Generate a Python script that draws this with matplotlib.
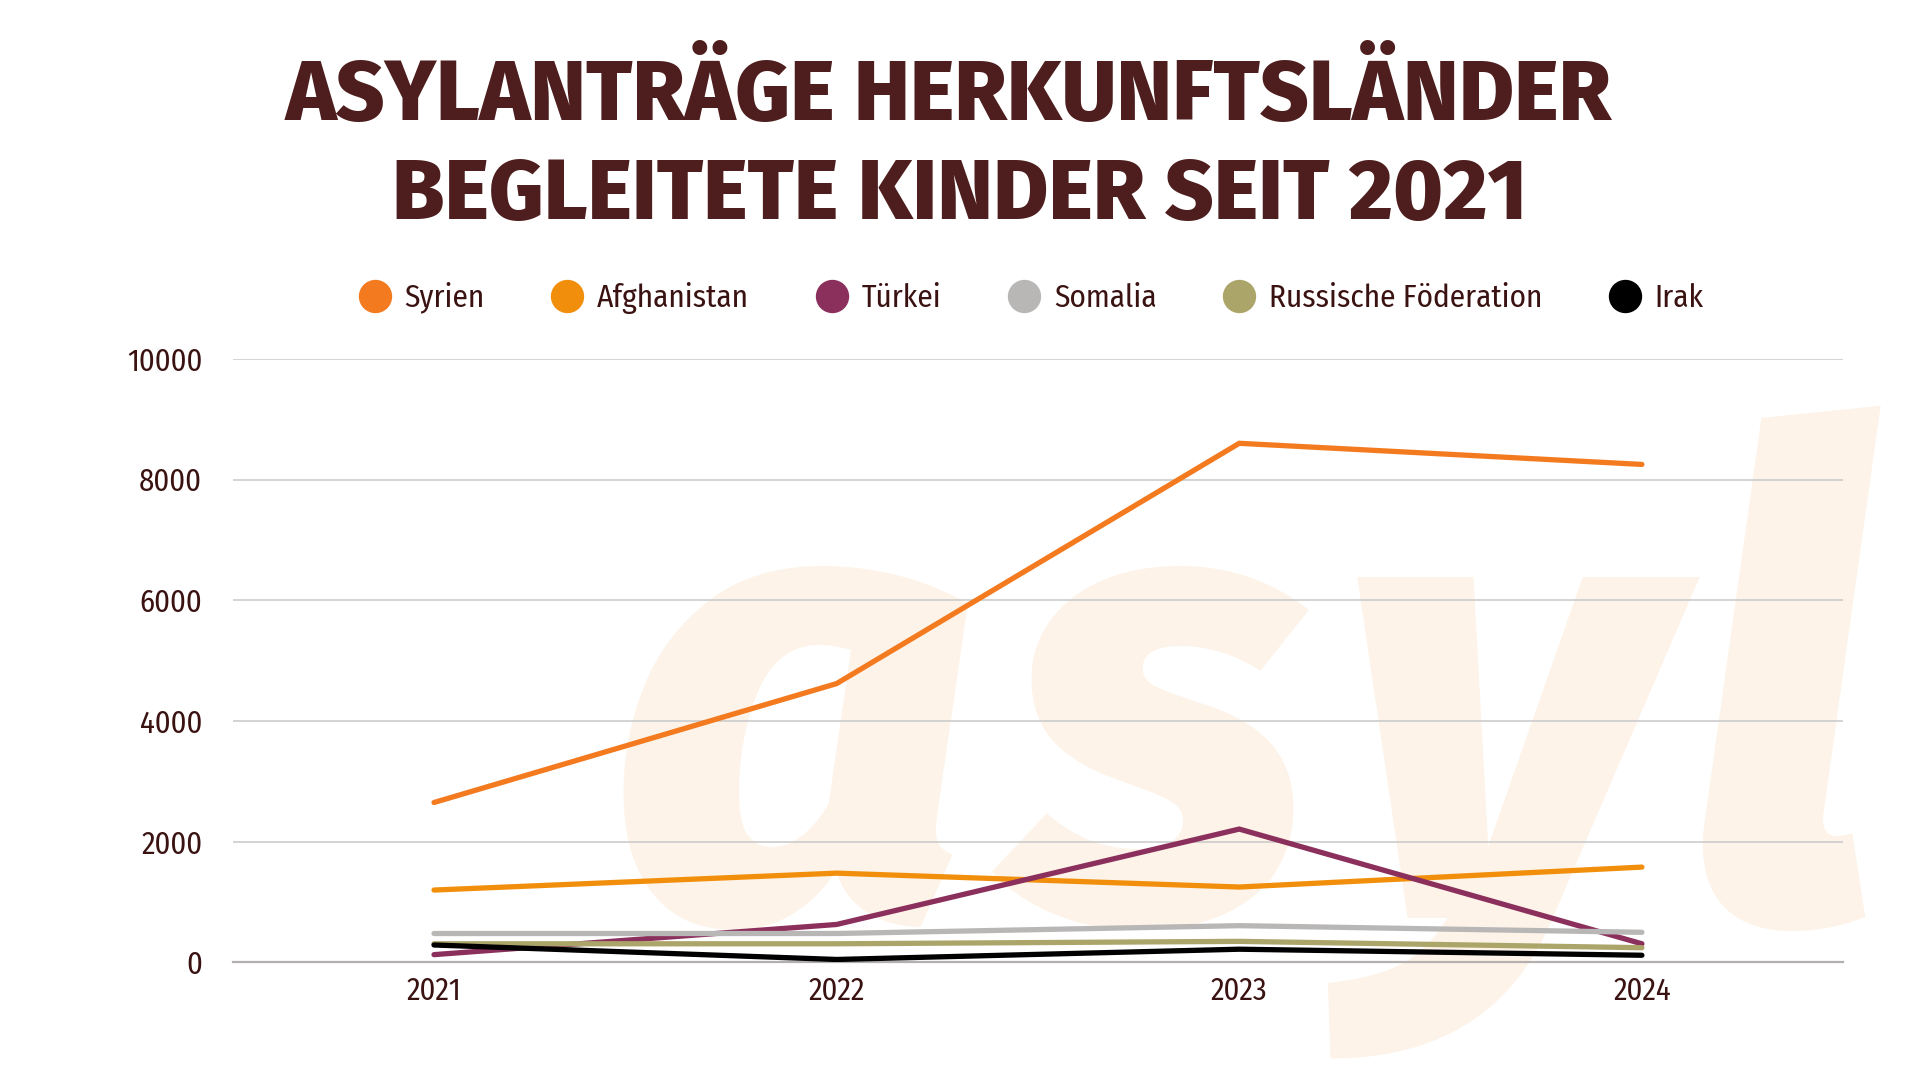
import matplotlib
matplotlib.use("Agg")
import matplotlib.pyplot as plt
from matplotlib.lines import Line2D
from matplotlib import font_manager as fm

years = [2021, 2022, 2023, 2024]
countries = ["Syrien", "Afghanistan", "Türkei", "Somalia", "Russische Föderation", "Irak"]
syrien = [2650, 4620, 8600, 8250]
afghanistan = [1200, 1480, 1250, 1580]
tuerkei = [130, 630, 2210, 310]
somalia = [480, 480, 610, 500]
russland = [310, 310, 350, 245]
irak = [290, 50, 220, 120]
series = [syrien, afghanistan, tuerkei, somalia, russland, irak]
colors = ["#f47a1f", "#f18f0c", "#8b2f5c", "#b9b6b6", "#aca56a", "#000000"]
yticks = [0, 2000, 4000, 6000, 8000, 10000]

title_lines = ["ASYLANTRÄGE HERKUNFTSLÄNDER", "BEGLEITETE KINDER SEIT 2021"]
watermark = "asyl"

available = {f.name for f in fm.fontManager.ttflist}


def pick(prefs):
    for p in prefs:
        if p in available:
            return p
    return "DejaVu Sans"


TITLE_FONT = pick(["Fira Sans", "Encode Sans Condensed", "Barlow Condensed",
                   "Roboto Condensed", "Open Sans Condensed", "IBM Plex Sans Condensed"])
BODY_FONT = pick(["Fira Sans Condensed", "PT Sans Narrow", "Encode Sans Semi Condensed",
                  "Asap Condensed", "Roboto Condensed", "IBM Plex Sans Condensed", "Open Sans"])
WM_FONT = pick(["Fira Sans", "Fira Sans Condensed", "DejaVu Sans"])

TXT = "#3b1212"
TITLE = "#4e1d1d"
BODY = [BODY_FONT, "DejaVu Sans"]

fig = plt.figure(figsize=(19.2, 10.8), dpi=100)
fig.patch.set_facecolor("white")

# watermark letters
wm_x = [0.414, 0.603, 0.783, 0.928]
wm_size = [460, 460, 460, 485]
for ch, x, fs in zip(watermark, wm_x, wm_size):
    fig.text(x, 0.15, ch, fontsize=fs, color="#fdf3e8", ha="center", va="baseline",
             family=[WM_FONT, "DejaVu Sans"], fontweight=800, style="italic", zorder=-5)

ax = fig.add_axes([0.1212, 0.1088, 0.8388, 0.559])
ax.patch.set_alpha(0)
for s, c in zip(series, colors):
    ax.plot(years, s, color=c, lw=3.8, solid_capstyle="round", solid_joinstyle="miter", zorder=3)

ax.set_xlim(2020.5, 2024.5)
ax.set_ylim(0, 10000)
ax.set_xticks(years)
ax.set_yticks(yticks)
ax.set_xticklabels([str(y) for y in years], fontsize=22, color=TXT, family=BODY)
ax.set_yticklabels([str(v) for v in yticks], fontsize=22, color=TXT, family=BODY)
ax.tick_params(axis="both", length=0)
ax.tick_params(axis="y", pad=22)
ax.tick_params(axis="x", pad=10)
ax.grid(axis="y", color="#cccccc", lw=1.2, zorder=1)
ax.grid(axis="x", visible=False)
for sp in ["top", "right", "left"]:
    ax.spines[sp].set_visible(False)
ax.spines["bottom"].set_color("#b5b0b0")
ax.spines["bottom"].set_linewidth(1.6)

handles = [Line2D([], [], marker="o", ls="none", markersize=23, markerfacecolor=c,
                  markeredgecolor=c) for c in colors]
ax.legend(handles, countries, loc="center", bbox_to_anchor=(0.496, 1.101), ncol=6,
          frameon=False, prop={"family": BODY, "size": 22.5}, labelcolor=TXT,
          handletextpad=0.45, columnspacing=2.15, handlelength=1.0)

for txt, x, y in zip(title_lines, [0.494, 0.5], [0.91, 0.818]):
    fig.text(x, y, txt, fontsize=61, color=TITLE, ha="center", va="center",
             family=[TITLE_FONT, "DejaVu Sans"], fontweight=800)

fig.savefig("out.png", dpi=100, facecolor="white")
